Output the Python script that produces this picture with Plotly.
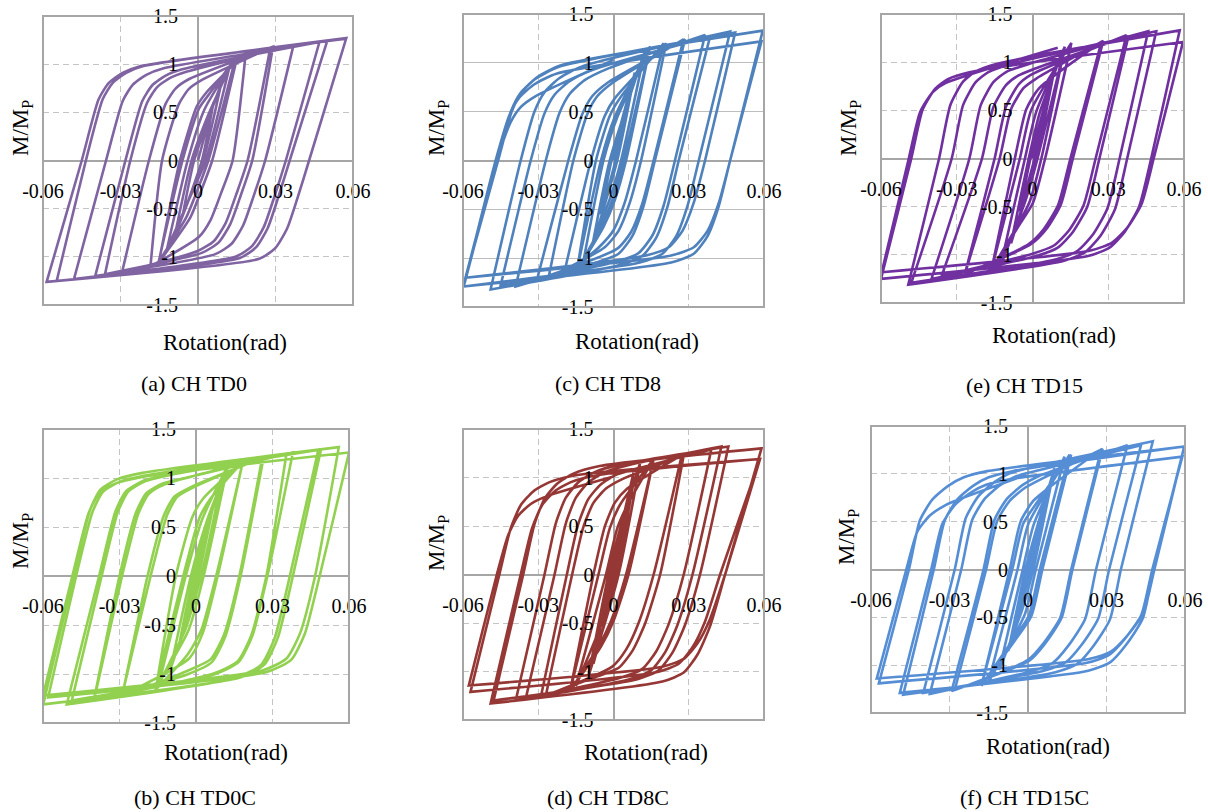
import plotly.graph_objects as go

W, H = 1208, 812

# ---------------- data (rotation in rad, M/Mp) ----------------
# each cycle i: positive tip (xp, yp), zero crossing of the unloading branch zd,
# negative tip (xn, yn), zero crossing of the reloading branch za
a_xp = [0.006, 0.009, 0.012, 0.0145, 0.0153, 0.0185, 0.028, 0.029, 0.037, 0.047, 0.050, 0.0574]
a_yp = [0.60, 0.80, 0.95, 1.06, 1.09, 1.12, 1.17, 1.18, 1.20, 1.23, 1.24, 1.27]
a_zd = [0.0015, 0.002, 0.003, 0.004, 0.0055, 0.0134, 0.0192, 0.021, 0.026, 0.034, 0.0355, 0.043]
a_xn = [-0.006, -0.009, -0.012, -0.0152, -0.0152, -0.0184, -0.0294, -0.036, -0.0398, -0.048, -0.0547, -0.0586]
a_yn = [-0.58, -0.78, -0.92, -1.05, -1.06, -1.10, -1.16, -1.18, -1.20, -1.23, -1.25, -1.26]
a_za = [-0.0015, -0.0025, -0.004, -0.006, -0.007, -0.0139, -0.019, -0.0262, -0.0281, -0.0356, -0.0434, -0.045]
a_end = [0.0574, 1.265]
a_knee_up = [(0.0065, 0.50), (0.0104, 0.635), (0.0156, 0.717), (0.022, 0.77)]
a_knee_dn = [(0.0045, 0.31), (0.0085, 0.56), (0.013, 0.72), (0.0193, 0.81)]

b_xp = [0.004, 0.007, 0.010, 0.0125, 0.0125, 0.0184, 0.0184, 0.026, 0.0265, 0.0355, 0.038, 0.048, 0.049, 0.056, 0.060]
b_yp = [0.45, 0.75, 0.98, 1.12, 1.13, 1.17, 1.17, 1.21, 1.21, 1.25, 1.26, 1.29, 1.29, 1.315, 1.26]
b_zd = [0.0005, 0.001, 0.002, 0.002, 0.003, 0.0079, 0.0085, 0.017, 0.0175, 0.0276, 0.028, 0.0368, 0.038, 0.0467, 0.0485]
b_xn = [-0.004, -0.007, -0.010, -0.0145, -0.0158, -0.0158, -0.029, -0.029, -0.040, -0.040, -0.0487, -0.0507, -0.0599, -0.060, -0.058]
b_yn = [-0.45, -0.75, -0.95, -1.10, -1.15, -1.16, -1.22, -1.23, -1.27, -1.26, -1.27, -1.31, -1.31, -1.22, -1.24]
b_za = [-0.0005, -0.001, -0.002, -0.004, -0.005, -0.0079, -0.0178, -0.019, -0.029, -0.030, -0.037, -0.038, -0.048, -0.0485, -0.047]
b_end = [0.045, 1.28]
b_knee_up = [(0.0064, 0.51), (0.0105, 0.67), (0.017, 0.75), (0.027, 0.80)]
b_knee_dn = [(0.0059, 0.48), (0.0112, 0.69), (0.0207, 0.79)]

c_xp = [0.005, 0.0085, 0.0125, 0.0146, 0.0146, 0.020, 0.021, 0.0279, 0.0285, 0.0365, 0.0385, 0.0465, 0.0485, 0.0595, 0.059]
c_yp = [0.55, 0.90, 1.12, 1.166, 1.17, 1.20, 1.20, 1.24, 1.24, 1.285, 1.27, 1.32, 1.31, 1.33, 1.22]
c_zd = [0.0008, 0.0015, 0.003, 0.004, 0.005, 0.009, 0.011, 0.016, 0.0165, 0.0245, 0.026, 0.034, 0.0365, 0.0465, 0.0465]
c_xn = [-0.005, -0.0085, -0.0125, -0.0146, -0.0146, -0.020, -0.0259, -0.0305, -0.039, -0.045, -0.049, -0.0597, -0.059, -0.0597, -0.059]
c_yn = [-0.55, -0.88, -1.10, -1.13, -1.135, -1.19, -1.20, -1.22, -1.29, -1.28, -1.32, -1.29, -1.20, -1.29, -1.20]
c_za = [-0.0008, -0.0015, -0.004, -0.005, -0.007, -0.009, -0.016, -0.018, -0.027, -0.033, -0.037, -0.0465, -0.046, -0.047, -0.0465]
c_end = [0.0, 1.03]
c_knee_up = [(0.0055, 0.38), (0.0095, 0.53), (0.0155, 0.64), (0.0245, 0.73)]
c_knee_dn = [(0.0045, 0.36), (0.009, 0.60), (0.0145, 0.74), (0.0235, 0.81)]

d_xp = [0.004, 0.008, 0.008, 0.0106, 0.016, 0.016, 0.0272, 0.028, 0.039, 0.043, 0.0458, 0.059, 0.0584, 0.0584]
d_yp = [0.50, 0.95, 1.05, 1.15, 1.19, 1.19, 1.23, 1.23, 1.29, 1.32, 1.32, 1.30, 1.19, 1.19]
d_zd = [0.0005, 0.0012, 0.002, 0.002, 0.005, 0.006, 0.016, 0.0186, 0.028, 0.0315, 0.0345, 0.0445, 0.0425, 0.0445]
d_xn = [-0.004, -0.008, -0.010, -0.015, -0.0173, -0.0173, -0.027, -0.029, -0.035, -0.039, -0.0478, -0.049, -0.057, -0.0577]
d_yn = [-0.50, -0.92, -1.05, -1.15, -1.20, -1.20, -1.25, -1.265, -1.28, -1.30, -1.30, -1.33, -1.21, -1.145]
d_za = [-0.0005, -0.0012, -0.002, -0.003, -0.006, -0.008, -0.0165, -0.0186, -0.0235, -0.0275, -0.036, -0.037, -0.0455, -0.0465]
d_end = [0.0, 1.01]
d_knee_up = [(0.0045, 0.40), (0.0085, 0.60), (0.0135, 0.72), (0.020, 0.80), (0.0305, 0.86)]
d_knee_dn = [(0.006, 0.40), (0.011, 0.62), (0.0165, 0.76), (0.025, 0.83)]

e_xp = [0.005, 0.0085, 0.0128, 0.0128, 0.0154, 0.0273, 0.028, 0.0372, 0.038, 0.0458, 0.049, 0.0583, 0.0596]
e_yp = [0.55, 0.90, 1.16, 1.16, 1.20, 1.21, 1.22, 1.28, 1.27, 1.32, 1.32, 1.33, 1.21]
e_zd = [0.0008, 0.0015, 0.002, 0.0035, 0.005, 0.015, 0.016, 0.025, 0.0265, 0.0345, 0.0375, 0.047, 0.048]
e_xn = [-0.005, -0.0085, -0.0125, -0.0162, -0.0162, -0.0268, -0.0268, -0.036, -0.040, -0.048, -0.0492, -0.060, -0.0597]
e_yn = [-0.55, -0.88, -1.10, -1.15, -1.15, -1.20, -1.20, -1.22, -1.25, -1.29, -1.31, -1.25, -1.18]
e_za = [-0.0008, -0.0015, -0.003, -0.005, -0.007, -0.013, -0.015, -0.020, -0.025, -0.032, -0.037, -0.048, -0.049]
e_end = [0.01, 1.15]
e_knee_up = [(0.0045, 0.42), (0.0095, 0.60), (0.0145, 0.68), (0.023, 0.74)]
e_knee_dn = [(0.0048, 0.40), (0.0105, 0.61), (0.0165, 0.74), (0.025, 0.81)]

f_xp = [0.004, 0.0075, 0.010, 0.014, 0.0159, 0.0165, 0.028, 0.0285, 0.038, 0.0432, 0.0477, 0.0597, 0.059, 0.0597]
f_yp = [0.50, 0.85, 1.05, 1.18, 1.20, 1.20, 1.257, 1.26, 1.30, 1.30, 1.34, 1.285, 1.18, 1.285]
f_zd = [0.0005, 0.001, 0.002, 0.003, 0.0045, 0.0055, 0.0165, 0.017, 0.026, 0.031, 0.0355, 0.048, 0.0475, 0.0483]
f_xn = [-0.004, -0.0075, -0.011, -0.015, -0.0178, -0.0178, -0.028, -0.0292, -0.0375, -0.040, -0.0477, -0.049, -0.057, -0.0578]
f_yn = [-0.50, -0.85, -1.05, -1.17, -1.215, -1.215, -1.26, -1.27, -1.30, -1.29, -1.31, -1.29, -1.19, -1.14]
f_za = [-0.0005, -0.001, -0.002, -0.004, -0.006, -0.007, -0.016, -0.017, -0.0255, -0.028, -0.036, -0.037, -0.0455, -0.0465]
f_end = [-0.0006, 0.99]
f_knee_up = [(0.0042, 0.40), (0.009, 0.57), (0.015, 0.68), (0.021, 0.75), (0.030, 0.80)]
f_knee_dn = [(0.0042, 0.40), (0.0105, 0.61), (0.0165, 0.75), (0.025, 0.82)]

x_ticks = [-0.06, -0.03, 0, 0.03, 0.06]
x_tick_text = ["-0.06", "-0.03", "0", "0.03", "0.06"]
y_ticks = [-1.5, -1, -0.5, 0, 0.5, 1, 1.5]
y_tick_text = ["-1.5", "-1", "-0.5", "0", "0.5", "1", "1.5"]

captions = {"a": "(a) CH TD0", "b": "(b) CH TD0C", "c": "(c) CH TD8",
            "d": "(d) CH TD8C", "e": "(e) CH TD15", "f": "(f) CH TD15C"}

# ---------------- build hysteresis paths ----------------
def branch(z, target, knees, sign):
    pts = [(z, 0.0)]
    prev = (z, 0.0)
    for dx, fr in knees:
        kx = z + sign * dx
        ky = sign * fr * abs(target[1])
        if sign * (target[0] - kx) < 0.003 or abs(ky) >= abs(target[1]) - 0.03:
            break
        s1 = (ky - prev[1]) / (kx - prev[0])
        s2 = (target[1] - ky) / (target[0] - kx)
        if s1 <= s2:
            break
        pts.append((kx, ky))
        prev = (kx, ky)
    return pts


def build(xp, yp, zd, xn, yn, za, end, kup, kdn):
    # tips are listed twice so that the spline keeps a sharp corner there
    pts = [(0.0, 0.0)]
    n = len(xp)
    for i in range(n):
        tip = (xp[i], yp[i])
        pts += [tip, tip]
        neg = (xn[i], yn[i])
        pts += branch(zd[i], neg, kdn, -1)
        pts += [neg, neg]
        nxt = (xp[i + 1], yp[i + 1]) if i + 1 < n else (end[0], end[1])
        pts += branch(za[i], nxt, kup, +1)
    pts.append((end[0], end[1]))
    return [p[0] for p in pts], [p[1] for p in pts]


panels = [
    ("a", "#8064A2", (43, 353, 16, 305), (a_xp, a_yp, a_zd, a_xn, a_yn, a_za, a_end, a_knee_up, a_knee_dn), "dash"),
    ("c", "#4F81BD", (463, 764, 14, 307), (c_xp, c_yp, c_zd, c_xn, c_yn, c_za, c_end, c_knee_up, c_knee_dn), "solid"),
    ("e", "#7030A0", (881, 1184, 14, 303), (e_xp, e_yp, e_zd, e_xn, e_yn, e_za, e_end, e_knee_up, e_knee_dn), "dash"),
    ("b", "#92D050", (43, 349, 429, 723), (b_xp, b_yp, b_zd, b_xn, b_yn, b_za, b_end, b_knee_up, b_knee_dn), "dash"),
    ("d", "#953735", (463, 764, 429, 720), (d_xp, d_yp, d_zd, d_xn, d_yn, d_za, d_end, d_knee_up, d_knee_dn), "dash"),
    ("f", "#558ED5", (871, 1185, 426, 713), (f_xp, f_yp, f_zd, f_xn, f_yn, f_za, f_end, f_knee_up, f_knee_dn), "dash"),
]

# label positions in pixels: y title, x title, caption
label_px = {
    "a": ((22, 128), (225, 342), (194, 383)),
    "c": ((438, 128), (637, 341), (608, 383)),
    "e": ((850, 128), (1054, 336), (1024, 385)),
    "b": ((22, 541), (226, 752), (195, 797)),
    "d": ((438, 543), (646, 752), (608, 797)),
    "f": ((848, 537), (1048, 746), (1024, 797)),
}

FONT = "Liberation Serif, Times New Roman, serif"
DASH = "6px,4px"
fig = go.Figure()
layout = {}
shapes = []
annotations = []

for k, (key, color, box, data, ygrid) in enumerate(panels):
    n = "" if k == 0 else str(k + 1)
    L, R, T, B = box
    xd = [L / W, R / W]
    yd = [1 - B / H, 1 - T / H]
    xs, ys = build(*data)
    fig.add_trace(go.Scatter(x=xs, y=ys, mode="lines", xaxis="x" + n, yaxis="y" + n,
                             line=dict(color=color, width=2.6, shape="spline",
                                       smoothing=0.6, simplify=False),
                             showlegend=False, hoverinfo="skip"))
    layout["xaxis" + n] = dict(
        domain=xd, range=[-0.06, 0.06], anchor="free", position=(yd[0] + yd[1]) / 2,
        automargin=False,
        tickmode="array", tickvals=x_ticks, ticktext=x_tick_text,
        showgrid=True, gridcolor="#c4c4c4", gridwidth=1.4, griddash=DASH,
        zeroline=True, zerolinecolor="#a6a6a6", zerolinewidth=1.8,
        showline=False, ticks="outside", ticklen=12, tickcolor="rgba(0,0,0,0)",
        tickfont=dict(family=FONT, size=20, color="black"), fixedrange=True)
    layout["yaxis" + n] = dict(
        domain=yd, range=[-1.5, 1.5], anchor="free", position=(xd[0] + xd[1]) / 2,
        automargin=False,
        tickmode="array", tickvals=y_ticks, ticktext=y_tick_text,
        showgrid=True, gridcolor="#c4c4c4" if ygrid == "dash" else "#bdbdbd",
        gridwidth=1.4, griddash=DASH if ygrid == "dash" else "solid",
        zeroline=True, zerolinecolor="#a6a6a6", zerolinewidth=1.8,
        showline=False, ticks="outside", ticklen=16, tickcolor="rgba(0,0,0,0)",
        tickfont=dict(family=FONT, size=20, color="black"), fixedrange=True)
    shapes.append(dict(type="rect", xref="paper", yref="paper",
                       x0=xd[0], x1=xd[1], y0=yd[0], y1=yd[1],
                       line=dict(color="#a6a6a6", width=2), layer="above"))
    (yt, xt, cap) = label_px[key]
    annotations.append(dict(text="M/M<sub>P</sub>", x=yt[0] / W, y=1 - yt[1] / H,
                            xref="paper", yref="paper", showarrow=False, textangle=-90,
                            xanchor="center", yanchor="middle",
                            font=dict(family=FONT, size=23, color="black")))
    annotations.append(dict(text="Rotation(rad)", x=xt[0] / W, y=1 - xt[1] / H,
                            xref="paper", yref="paper", showarrow=False,
                            xanchor="center", yanchor="middle",
                            font=dict(family=FONT, size=23, color="black")))
    annotations.append(dict(text=captions[key], x=cap[0] / W, y=1 - cap[1] / H,
                            xref="paper", yref="paper", showarrow=False,
                            xanchor="center", yanchor="middle",
                            font=dict(family=FONT, size=22, color="black")))

fig.update_layout(width=W, height=H, margin=dict(l=0, r=0, t=0, b=0, autoexpand=False),
                  paper_bgcolor="white", plot_bgcolor="white",
                  font=dict(family=FONT, color="black"),
                  shapes=shapes, annotations=annotations, **layout)

fig.write_html("out.html", config={"displayModeBar": False},
               post_script="document.body.style.margin='0px';document.body.style.overflow='hidden';")
